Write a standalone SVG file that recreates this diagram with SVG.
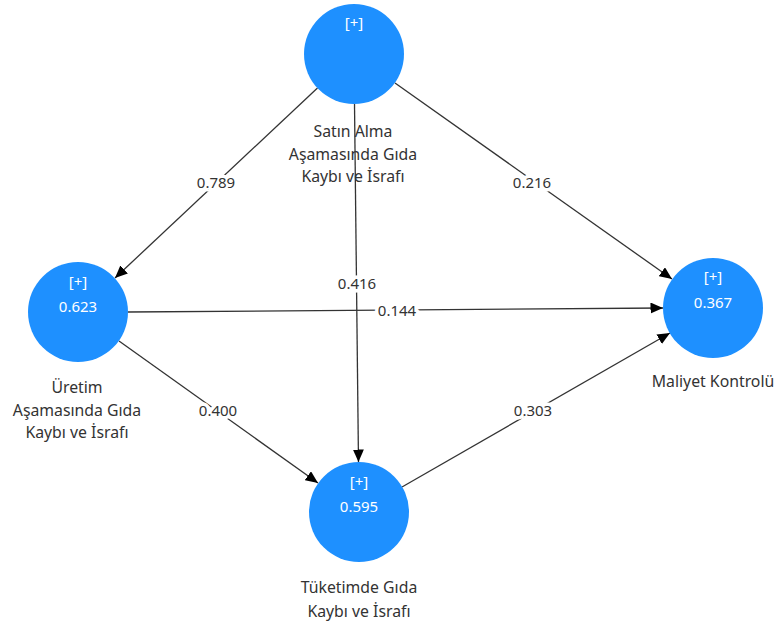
<svg xmlns="http://www.w3.org/2000/svg" width="779" height="624" viewBox="0 0 779 624">
<style>
.c{fill:#1E90FF}
.in{font-family:"Noto Sans","Open Sans",sans-serif;font-size:15px;fill:#ffffff;text-anchor:middle}
.lb{font-family:"Noto Sans","Open Sans",sans-serif;font-size:15.8px;fill:#333333;text-anchor:middle}
.el{font-family:"Noto Sans","Open Sans",sans-serif;font-size:15px;fill:#333333;text-anchor:middle;stroke:#ffffff;stroke-width:7;paint-order:stroke;stroke-linejoin:round}
.e{stroke:#333333;stroke-width:1.3;fill:none;marker-end:url(#ah)}
</style>
<defs>
<marker id="ah" markerUnits="userSpaceOnUse" markerWidth="13" markerHeight="11" refX="12.5" refY="5.5" orient="auto">
<path d="M0,0 L12.5,5.5 L0,11 z" fill="#000000"/>
</marker>
</defs>
<rect width="779" height="624" fill="#ffffff"/>
<g id="connectors">
<line class="e" x1="317.5" y1="88" x2="115" y2="278"/>
<line class="e" x1="395" y1="83" x2="672" y2="279"/>
<line class="e" x1="354.5" y1="104" x2="358.5" y2="462"/>
<line class="e" x1="128" y1="312" x2="663" y2="308"/>
<line class="e" x1="119" y1="341" x2="318" y2="483"/>
<line class="e" x1="402" y1="487" x2="670" y2="333"/>
<text class="el" x="216" y="188">0.789</text>
<text class="el" x="532" y="188">0.216</text>
<text class="el" x="357" y="289">0.416</text>
<text class="el" x="397" y="316">0.144</text>
<text class="el" x="218" y="416">0.400</text>
<text class="el" x="533" y="416">0.303</text>
</g>
<g id="node-satin">
<circle class="c" cx="354" cy="54" r="50"/>
<text class="in" x="354" y="28">[+]</text>
<text class="lb" x="353" y="137">Satın Alma</text>
<text class="lb" x="353" y="160">Aşamasında Gıda</text>
<text class="lb" x="353" y="182">Kaybı ve İsrafı</text>
</g>
<g id="node-uretim">
<circle class="c" cx="78" cy="312" r="50"/>
<text class="in" x="78" y="287">[+]</text>
<text class="in" x="78" y="312">0.623</text>
<text class="lb" x="77" y="393">Üretim</text>
<text class="lb" x="77" y="416">Aşamasında Gıda</text>
<text class="lb" x="77" y="438">Kaybı ve İsrafı</text>
</g>
<g id="node-maliyet">
<circle class="c" cx="713" cy="308" r="50"/>
<text class="in" x="713" y="282">[+]</text>
<text class="in" x="713" y="308">0.367</text>
<text class="lb" x="713" y="387">Maliyet Kontrolü</text>
</g>
<g id="node-tuketim">
<circle class="c" cx="359" cy="512" r="50"/>
<text class="in" x="359" y="487">[+]</text>
<text class="in" x="359" y="512">0.595</text>
<text class="lb" x="359" y="593">Tüketimde Gıda</text>
<text class="lb" x="359" y="617">Kaybı ve İsrafı</text>
</g>
</svg>
